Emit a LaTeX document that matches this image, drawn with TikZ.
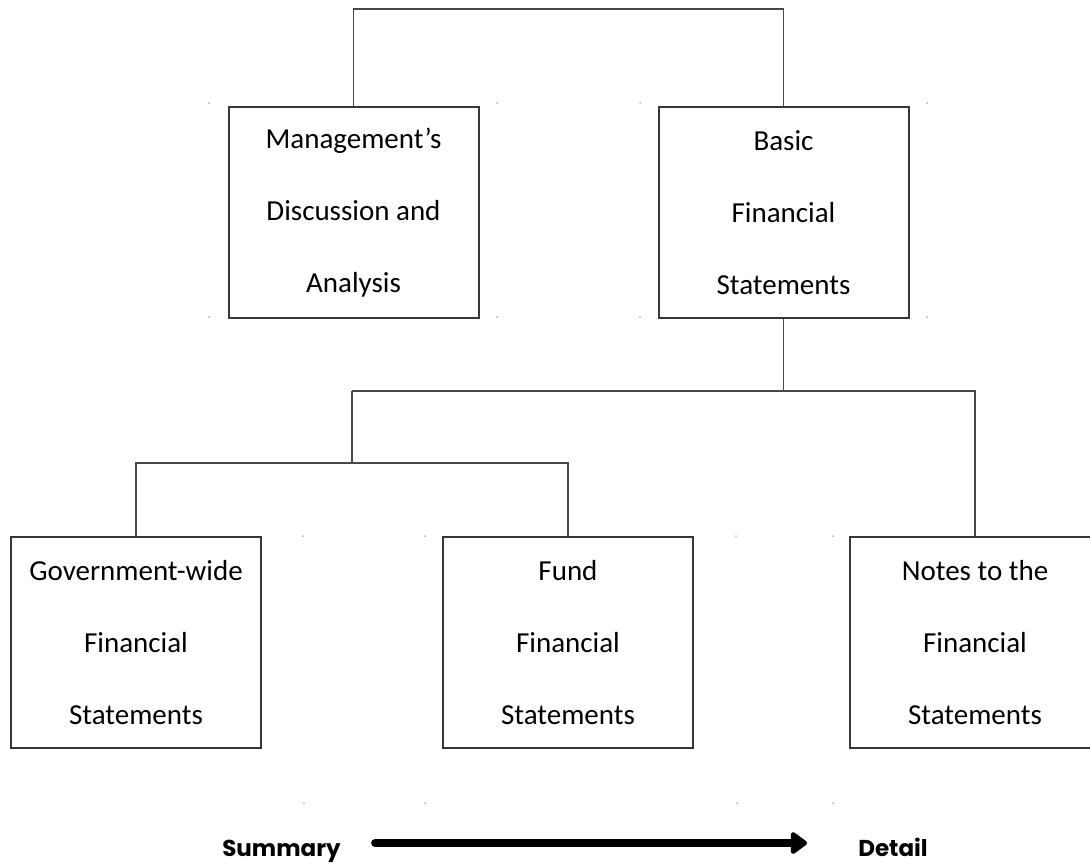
\documentclass[tikz,border=0pt]{standalone}
\usepackage{fontspec}
\setmainfont{Carlito}
\newfontfamily\labelfont{Poppins}
\usetikzlibrary{arrows.meta}
\tikzset{
  box/.style={draw=black!78, line width=2pt, minimum width=250pt, minimum height=211pt,
    inner sep=0pt, align=center, font=\fontsize{29}{72}\selectfont, text=black},
  link/.style={draw=black!72, line width=1.8pt},
  endlabel/.style={inner sep=0pt, anchor=base, font=\labelfont\bfseries\fontsize{23}{28}\selectfont},
  bigarrow/.style={line width=7.5pt, line cap=round, -{Triangle[round, length=18pt, width=25pt]}},
  speck/.style={fill=black!30, draw=none}
}
\begin{document}
\begin{tikzpicture}[x=1pt, y=-1pt]
\useasboundingbox (0,0) rectangle (1090,863);
% boxes
\node[box] (mda)   at (353.5,212.5) {Management’s\\Discussion and\\Analysis};
\node[box] (bfs)   at (783.5,212.5) {Basic\\Financial\\Statements};
\node[box] (gov)   at (136,642.5)   {Government-wide\\Financial\\Statements};
\node[box] (fund)  at (568,642.5)   {Fund\\Financial\\Statements};
\node[box] (notes) at (975,642.5)   {Notes to the\\Financial\\Statements};
% connectors
\coordinate (top) at (568,9);
\coordinate (h1) at (352,391);
\coordinate (h2) at (352,463);
\draw[link] (mda.north) |- (top) -| (bfs.north);
\draw[link] (bfs.south) -- (bfs.south |- h1);
\draw[link] (h1) -| (notes.north);
\draw[link] (h1) -- (h2);
\draw[link] (gov.north) |- (h2) -| (fund.north);
% bottom arrow
\node[endlabel] (sum) at (281.5,856) {Summary};
\node[endlabel] (det) at (893,856) {Detail};
\draw[bigarrow] ([shift={(34,-13)}]sum.base east) -- ([shift={(-51,-13)}]det.base west);
% faint specks
\foreach \p in {(209,103),(497,103),(640,103),(927,103),(209,317),(497,317),(640,317),(927,317),
  (303,536),(425,536),(736,536),(833,536),(304,803),(425,803),(737,803),(833,803)}
  \fill[speck] \p circle (1pt);
\end{tikzpicture}
\end{document}
